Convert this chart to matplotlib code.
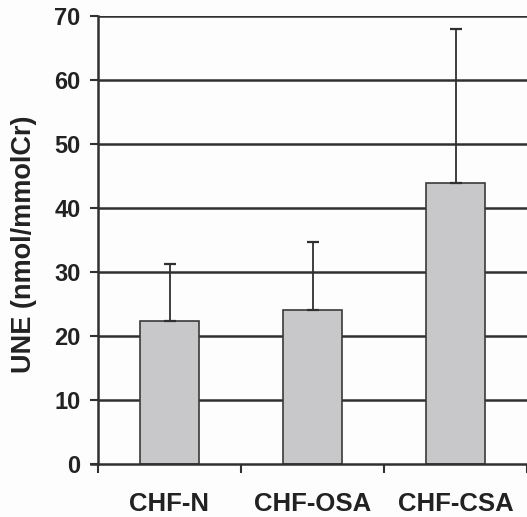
import matplotlib
matplotlib.use("Agg")
import matplotlib.pyplot as plt
import numpy as np

categories = ["CHF-N", "CHF-OSA", "CHF-CSA"]
means = [22.3, 24.0, 43.9]
sd_upper = [9.0, 10.7, 24.0]
yticks = [0, 10, 20, 30, 40, 50, 60, 70]

plt.rcParams['font.family'] = ['Liberation Sans', 'DejaVu Sans']
plt.rcParams['font.weight'] = 'bold'

fig = plt.figure(figsize=(5.27, 5.17), dpi=100)
fig.patch.set_facecolor('#fdfdfd')
ax = fig.add_axes([98/527, 1 - 464/517, 1 - 98/527, (464 - 16)/517])
ax.set_facecolor('#fdfdfd')

x = np.arange(len(categories))
ax.set_axisbelow(True)
for t in yticks[1:]:
    ax.axhline(t, color='#303030', lw=1.8, zorder=0)

err = [np.zeros(len(means)), sd_upper]
ax.bar(x, means, width=0.41, color='#c8c8ca', edgecolor='#3a3a3a', lw=1.2, zorder=2,
       yerr=err, error_kw=dict(ecolor='#303030', elinewidth=1.3, capsize=4, capthick=1.6, zorder=3))

ax.set_xlim(-0.5, -0.5 + 429/145)
ax.set_ylim(0, 70)
ax.set_yticks(yticks)
ax.set_yticklabels([str(v) for v in yticks], fontsize=17, fontweight='bold', color='#222222')
ax.set_xticks(x)
ax.set_xticklabels(categories, fontsize=18.5, fontweight='bold', color='#222222')
ax.tick_params(axis='x', length=0, pad=20)
ax.tick_params(axis='y', length=5.5, width=1.5, color='#303030', pad=7)
# category boundary ticks
ax.set_xticks([-0.5, 0.5, 1.5, 2.5], minor=True)
ax.tick_params(axis='x', which='minor', length=6.5, width=1.5, color='#303030', direction='out')

for s in ['top', 'right']:
    ax.spines[s].set_visible(False)
ax.spines['left'].set_color('#303030')
ax.spines['left'].set_linewidth(1.8)
ax.spines['bottom'].set_color('#303030')
ax.spines['bottom'].set_linewidth(1.8)
ax.spines['bottom'].set_bounds(-0.55, 2.6)

ax.set_ylabel("UNE (nmol/mmolCr)", fontsize=19.5, fontweight='bold', color='#222222', labelpad=8)
ax.yaxis.set_label_coords(-(98 - 37) / 429, 0.49)

fig.savefig("out.png", dpi=100, facecolor=fig.get_facecolor())
